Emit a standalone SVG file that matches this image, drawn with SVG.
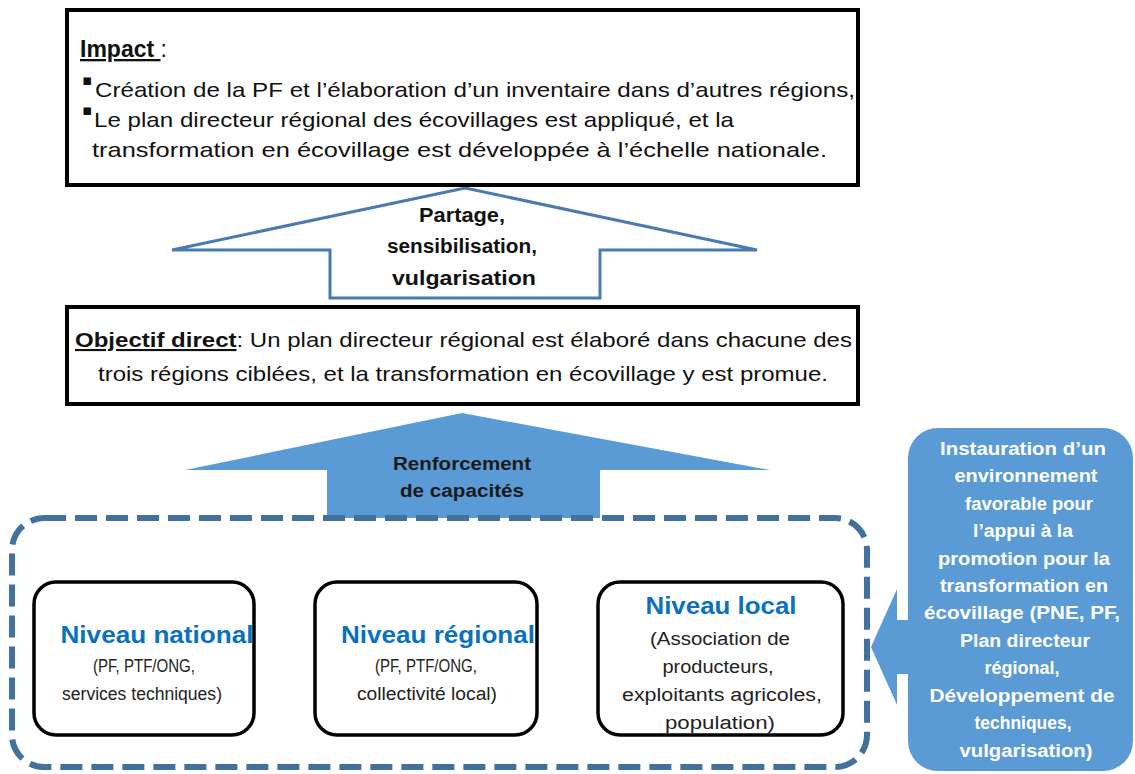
<svg xmlns="http://www.w3.org/2000/svg" width="1135" height="774" viewBox="0 0 1135 774">
<defs>
<style>
text{font-family:"Liberation Sans",Arial,sans-serif;}
.box{fill:#fff;stroke:#000;stroke-width:4;}
.lvl{fill:#fff;stroke:#000;stroke-width:3.5;}
.body{font-size:21px;fill:#111;}
.bul{font-family:"DejaVu Sans",sans-serif;font-size:15px;fill:#111;}
.arrowtxt{font-size:20px;font-weight:bold;fill:#111;text-anchor:middle;}
.rtxt{font-size:18px;font-weight:bold;fill:#1a1a1a;text-anchor:middle;}
.ttl{font-size:24px;font-weight:bold;fill:#0a70c0;text-anchor:middle;}
.sub{font-size:18px;fill:#222;text-anchor:middle;}
.call{font-size:18px;font-weight:bold;fill:#fff;text-anchor:middle;}
.blue{fill:#5b9bd5;}
</style>
</defs>
<rect width="1135" height="774" fill="#fff"/>

<g id="connectors">
<polygon points="465,188 757,250 600,250 600,298 330,298 330,250 172,250" fill="#fff" stroke="#4a7ab0" stroke-width="3" stroke-linejoin="miter"/>
<polygon class="blue" points="462,413 770,470 600,470 600,518 327,518 327,470 185,470"/>
<polygon class="blue" points="871,647 897,589 897,620 920,620 920,674 897,674 897,705"/>
</g>

<g id="impact">
<rect class="box" x="67" y="10" width="791" height="175"/>
<text x="80" y="57" style="font-size:23px" fill="#111"><tspan font-weight="bold" text-decoration="underline">Impact </tspan><tspan> :</tspan></text>
<text class="bul" x="82" y="85">▪</text>
<text class="body" x="95" y="97" textLength="760" lengthAdjust="spacingAndGlyphs">Création de la PF et l’élaboration d’un inventaire dans d’autres régions,</text>
<text class="bul" x="82" y="115">▪</text>
<text class="body" x="94" y="127" textLength="640" lengthAdjust="spacingAndGlyphs">Le plan directeur régional des écovillages est appliqué, et la</text>
<text class="body" x="92" y="157" textLength="735" lengthAdjust="spacingAndGlyphs">transformation en écovillage est développée à l’échelle nationale.</text>
</g>

<g id="partage">
<text class="arrowtxt" x="462" y="222" textLength="86" lengthAdjust="spacingAndGlyphs">Partage,</text>
<text class="arrowtxt" x="462" y="253" textLength="150" lengthAdjust="spacingAndGlyphs">sensibilisation,</text>
<text class="arrowtxt" x="464" y="285" textLength="144" lengthAdjust="spacingAndGlyphs">vulgarisation</text>
</g>

<g id="objectif">
<rect class="box" x="67" y="307" width="791" height="97"/>
<text class="body" x="75" y="347" textLength="777" lengthAdjust="spacingAndGlyphs"><tspan font-weight="bold" text-decoration="underline">Objectif direct</tspan>: Un plan directeur régional est élaboré dans chacune des</text>
<text class="body" x="98" y="381" textLength="730" lengthAdjust="spacingAndGlyphs">trois régions ciblées, et la transformation en écovillage y est promue.</text>
</g>

<g id="renforcement">
<text class="rtxt" x="462" y="470" textLength="138" lengthAdjust="spacingAndGlyphs">Renforcement</text>
<text class="rtxt" x="462" y="497" textLength="124" lengthAdjust="spacingAndGlyphs">de capacités</text>
</g>

<g id="levels">
<rect x="12" y="518" width="855" height="249" rx="32" fill="none" stroke="#41719c" stroke-width="6" stroke-dasharray="22 9"/>
</g>

<g id="national">
<rect class="lvl" x="34" y="582" width="220" height="153" rx="22"/>
<text class="ttl" x="157" y="643" textLength="193" lengthAdjust="spacingAndGlyphs">Niveau national</text>
<text class="sub" x="144" y="672" textLength="102" lengthAdjust="spacingAndGlyphs">(PF, PTF/ONG,</text>
<text class="sub" x="142" y="700" textLength="160" lengthAdjust="spacingAndGlyphs">services techniques)</text>
</g>

<g id="regional">
<rect class="lvl" x="315" y="582" width="222" height="153" rx="22"/>
<text class="ttl" x="438" y="643" textLength="194" lengthAdjust="spacingAndGlyphs">Niveau régional</text>
<text class="sub" x="426" y="672" textLength="102" lengthAdjust="spacingAndGlyphs">(PF, PTF/ONG,</text>
<text class="sub" x="427" y="700" textLength="140" lengthAdjust="spacingAndGlyphs">collectivité local)</text>
</g>

<g id="local">
<rect class="lvl" x="598" y="582" width="245" height="153" rx="22"/>
<text class="ttl" x="721" y="614" textLength="151" lengthAdjust="spacingAndGlyphs">Niveau local</text>
<text class="sub" x="720" y="645" textLength="140" lengthAdjust="spacingAndGlyphs">(Association de</text>
<text class="sub" x="718" y="673" textLength="111" lengthAdjust="spacingAndGlyphs">producteurs,</text>
<text class="sub" x="722" y="701" textLength="200" lengthAdjust="spacingAndGlyphs">exploitants agricoles,</text>
<text class="sub" x="720" y="729" textLength="110" lengthAdjust="spacingAndGlyphs">population)</text>
</g>

<g id="environnement">
<rect class="blue" x="908" y="428" width="225" height="343" rx="30"/>
<text class="call" x="1023" y="455" textLength="166" lengthAdjust="spacingAndGlyphs">Instauration d’un</text>
<text class="call" x="1026" y="482" textLength="143" lengthAdjust="spacingAndGlyphs">environnement</text>
<text class="call" x="1029" y="510" textLength="128" lengthAdjust="spacingAndGlyphs">favorable pour</text>
<text class="call" x="1023" y="537" textLength="100" lengthAdjust="spacingAndGlyphs">l’appui à la</text>
<text class="call" x="1024" y="565" textLength="172" lengthAdjust="spacingAndGlyphs">promotion pour la</text>
<text class="call" x="1024" y="592" textLength="168" lengthAdjust="spacingAndGlyphs">transformation en</text>
<text class="call" x="1022" y="619" textLength="196" lengthAdjust="spacingAndGlyphs">écovillage  (PNE, PF,</text>
<text class="call" x="1025" y="647" textLength="130" lengthAdjust="spacingAndGlyphs">Plan directeur</text>
<text class="call" x="1022" y="674" textLength="75" lengthAdjust="spacingAndGlyphs">régional,</text>
<text class="call" x="1022" y="702" textLength="185" lengthAdjust="spacingAndGlyphs">Développement de</text>
<text class="call" x="1023" y="729" textLength="97" lengthAdjust="spacingAndGlyphs">techniques,</text>
<text class="call" x="1026" y="757" textLength="133" lengthAdjust="spacingAndGlyphs">vulgarisation)</text>
</g>
</svg>
